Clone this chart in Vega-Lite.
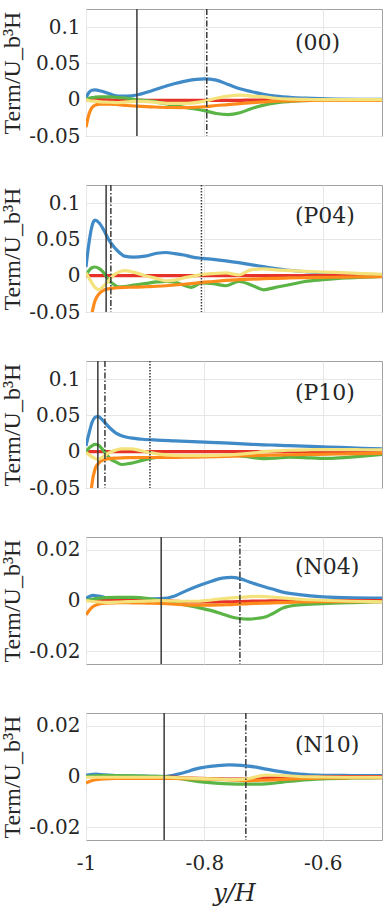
{
  "$schema": "https://vega.github.io/schema/vega-lite/v6.json",
  "background": "white",
  "padding": {"left": 0, "top": 7, "right": 0, "bottom": 0},
  "spacing": 49,
  "bounds": "flush",
  "resolve": {"scale": {"x": "independent", "y": "independent"}},
  "config": {
    "view": {"stroke": "#a0a0a0", "strokeWidth": 1},
    "axis": {
      "grid": true, "gridColor": "#e6e6e6", "gridWidth": 1,
      "ticks": false, "tickSize": 0, "domain": false,
      "labelFont": "DejaVu Serif", "labelFontSize": 20, "labelColor": "#262626",
      "labelFlush": false, "labelOverlap": false, "labelBound": false,
      "titleColor": "#262626", "titleFontWeight": "normal"
    },
    "axisY": {"labelPadding": 6, "titleFont": "Liberation Serif", "titleFontSize": 24, "titlePadding": 4},
    "axisX": {"labelPadding": 13, "titleFont": "DejaVu Serif", "titleFontSize": 24, "titleFontStyle": "italic", "titlePadding": 8}
  },
  "datasets": {
    "p00": [
      {"x": -1.000, "T1": 0.003, "T2": 0, "T3": 0.000, "T4": -0.038, "T5": 0.000},
      {"x": -0.995, "T1": 0.010, "T2": 0, "T3": 0.002, "T4": -0.020, "T5": -0.001},
      {"x": -0.990, "T1": 0.013, "T2": 0, "T3": 0.003, "T4": -0.011, "T5": -0.002},
      {"x": -0.985, "T1": 0.0135, "T2": 0, "T3": 0.0035, "T4": -0.0075, "T5": -0.002},
      {"x": -0.975, "T1": 0.012, "T2": 0, "T3": 0.004, "T4": -0.0062, "T5": -0.003},
      {"x": -0.960, "T1": 0.008, "T2": -0.0003, "T3": 0.004, "T4": -0.006, "T5": -0.0035},
      {"x": -0.945, "T1": 0.005, "T2": -0.0006, "T3": 0.003, "T4": -0.0068, "T5": -0.004},
      {"x": -0.930, "T1": 0.005, "T2": -0.0008, "T3": 0.002, "T4": -0.008, "T5": -0.003},
      {"x": -0.914, "T1": 0.0065, "T2": -0.001, "T3": 0.000, "T4": -0.0088, "T5": -0.002},
      {"x": -0.890, "T1": 0.012, "T2": -0.001, "T3": -0.002, "T4": -0.0098, "T5": -0.003},
      {"x": -0.860, "T1": 0.020, "T2": -0.001, "T3": -0.0065, "T4": -0.0107, "T5": -0.005},
      {"x": -0.830, "T1": 0.026, "T2": -0.001, "T3": -0.011, "T4": -0.0108, "T5": -0.005},
      {"x": -0.800, "T1": 0.0287, "T2": -0.001, "T3": -0.015, "T4": -0.0097, "T5": -0.002},
      {"x": -0.780, "T1": 0.027, "T2": -0.001, "T3": -0.019, "T4": -0.008, "T5": 0.002},
      {"x": -0.760, "T1": 0.021, "T2": -0.001, "T3": -0.0205, "T4": -0.0068, "T5": 0.005},
      {"x": -0.740, "T1": 0.015, "T2": -0.0008, "T3": -0.018, "T4": -0.0055, "T5": 0.0062},
      {"x": -0.720, "T1": 0.011, "T2": -0.0005, "T3": -0.012, "T4": -0.004, "T5": 0.005},
      {"x": -0.700, "T1": 0.0075, "T2": -0.0003, "T3": -0.0075, "T4": -0.003, "T5": 0.004},
      {"x": -0.680, "T1": 0.005, "T2": 0, "T3": -0.0045, "T4": -0.002, "T5": 0.002},
      {"x": -0.650, "T1": 0.003, "T2": 0, "T3": -0.002, "T4": -0.0015, "T5": 0.0008},
      {"x": -0.620, "T1": 0.002, "T2": 0, "T3": -0.001, "T4": -0.001, "T5": 0.0003},
      {"x": -0.580, "T1": 0.001, "T2": 0, "T3": -0.0008, "T4": -0.001, "T5": 0},
      {"x": -0.540, "T1": 0.0006, "T2": 0, "T3": -0.0005, "T4": -0.001, "T5": 0},
      {"x": -0.500, "T1": 0.0004, "T2": 0, "T3": -0.0004, "T4": -0.0008, "T5": 0}
    ],
    "pP04": [
      {"x": -1.000, "T1": 0.012, "T2": 0, "T3": 0.000, "T4": -0.10, "T5": 0.004},
      {"x": -0.995, "T1": 0.045, "T2": 0, "T3": 0.007, "T4": -0.075, "T5": -0.003},
      {"x": -0.990, "T1": 0.068, "T2": 0, "T3": 0.011, "T4": -0.052, "T5": -0.010},
      {"x": -0.985, "T1": 0.0765, "T2": 0, "T3": 0.012, "T4": -0.035, "T5": -0.016},
      {"x": -0.978, "T1": 0.073, "T2": 0, "T3": 0.010, "T4": -0.025, "T5": -0.019},
      {"x": -0.970, "T1": 0.063, "T2": 0, "T3": 0.004, "T4": -0.020, "T5": -0.014},
      {"x": -0.962, "T1": 0.050, "T2": 0, "T3": -0.006, "T4": -0.018, "T5": -0.007},
      {"x": -0.953, "T1": 0.040, "T2": 0, "T3": -0.012, "T4": -0.017, "T5": 0.001},
      {"x": -0.945, "T1": 0.033, "T2": 0, "T3": -0.0155, "T4": -0.0165, "T5": 0.005},
      {"x": -0.935, "T1": 0.027, "T2": 0, "T3": -0.015, "T4": -0.016, "T5": 0.007},
      {"x": -0.920, "T1": 0.0255, "T2": 0, "T3": -0.013, "T4": -0.0158, "T5": 0.005},
      {"x": -0.900, "T1": 0.027, "T2": 0, "T3": -0.011, "T4": -0.0152, "T5": 0.000},
      {"x": -0.880, "T1": 0.031, "T2": 0, "T3": -0.0085, "T4": -0.0145, "T5": -0.004},
      {"x": -0.865, "T1": 0.032, "T2": 0, "T3": -0.008, "T4": -0.0138, "T5": -0.007},
      {"x": -0.850, "T1": 0.0305, "T2": 0, "T3": -0.009, "T4": -0.0128, "T5": -0.006},
      {"x": -0.835, "T1": 0.0285, "T2": 0, "T3": -0.013, "T4": -0.0118, "T5": -0.003},
      {"x": -0.822, "T1": 0.026, "T2": 0, "T3": -0.016, "T4": -0.0108, "T5": -0.001},
      {"x": -0.805, "T1": 0.024, "T2": 0, "T3": -0.010, "T4": -0.0093, "T5": 0.0015},
      {"x": -0.785, "T1": 0.0225, "T2": 0, "T3": -0.011, "T4": -0.008, "T5": 0.003},
      {"x": -0.764, "T1": 0.0205, "T2": 0, "T3": -0.0138, "T4": -0.0065, "T5": 0.004},
      {"x": -0.742, "T1": 0.018, "T2": 0, "T3": -0.008, "T4": -0.0055, "T5": 0.001},
      {"x": -0.720, "T1": 0.015, "T2": 0, "T3": -0.013, "T4": -0.0047, "T5": 0.0085},
      {"x": -0.700, "T1": 0.0125, "T2": 0, "T3": -0.0194, "T4": -0.0041, "T5": 0.0095},
      {"x": -0.680, "T1": 0.010, "T2": 0, "T3": -0.016, "T4": -0.0036, "T5": 0.008},
      {"x": -0.657, "T1": 0.0075, "T2": 0, "T3": -0.0125, "T4": -0.0031, "T5": 0.007},
      {"x": -0.630, "T1": 0.0055, "T2": 0, "T3": -0.008, "T4": -0.0027, "T5": 0.006},
      {"x": -0.600, "T1": 0.004, "T2": 0, "T3": -0.0055, "T4": -0.0023, "T5": 0.005},
      {"x": -0.560, "T1": 0.0025, "T2": 0, "T3": -0.003, "T4": -0.0019, "T5": 0.004},
      {"x": -0.530, "T1": 0.0015, "T2": 0, "T3": -0.002, "T4": -0.0016, "T5": 0.003},
      {"x": -0.500, "T1": 0.001, "T2": 0, "T3": -0.001, "T4": -0.0014, "T5": 0.002}
    ],
    "pP10": [
      {"x": -1.000, "T1": 0.008, "T2": 0, "T3": 0.000, "T4": -0.15, "T5": -0.001},
      {"x": -0.995, "T1": 0.025, "T2": 0, "T3": 0.005, "T4": -0.085, "T5": -0.004},
      {"x": -0.990, "T1": 0.040, "T2": 0, "T3": 0.008, "T4": -0.045, "T5": -0.007},
      {"x": -0.985, "T1": 0.047, "T2": 0, "T3": 0.010, "T4": -0.0245, "T5": -0.009},
      {"x": -0.980, "T1": 0.0486, "T2": 0, "T3": 0.0095, "T4": -0.017, "T5": -0.0105},
      {"x": -0.975, "T1": 0.046, "T2": 0, "T3": 0.006, "T4": -0.013, "T5": -0.009},
      {"x": -0.968, "T1": 0.040, "T2": 0, "T3": -0.001, "T4": -0.0107, "T5": -0.005},
      {"x": -0.960, "T1": 0.033, "T2": 0, "T3": -0.009, "T4": -0.0095, "T5": -0.001},
      {"x": -0.950, "T1": 0.026, "T2": 0, "T3": -0.014, "T4": -0.0088, "T5": 0.002},
      {"x": -0.940, "T1": 0.022, "T2": 0, "T3": -0.0176, "T4": -0.0084, "T5": 0.004},
      {"x": -0.925, "T1": 0.019, "T2": 0, "T3": -0.016, "T4": -0.0082, "T5": 0.004},
      {"x": -0.905, "T1": 0.0172, "T2": 0, "T3": -0.012, "T4": -0.008, "T5": 0.001},
      {"x": -0.880, "T1": 0.016, "T2": 0, "T3": -0.008, "T4": -0.008, "T5": -0.003},
      {"x": -0.850, "T1": 0.015, "T2": 0, "T3": -0.0065, "T4": -0.0078, "T5": -0.005},
      {"x": -0.820, "T1": 0.014, "T2": 0, "T3": -0.006, "T4": -0.0074, "T5": -0.0055},
      {"x": -0.780, "T1": 0.0125, "T2": 0, "T3": -0.0058, "T4": -0.0068, "T5": -0.005},
      {"x": -0.750, "T1": 0.0115, "T2": 0, "T3": -0.005, "T4": -0.006, "T5": -0.004},
      {"x": -0.720, "T1": 0.0102, "T2": 0, "T3": -0.0078, "T4": -0.0054, "T5": -0.002},
      {"x": -0.700, "T1": 0.0095, "T2": 0, "T3": -0.0095, "T4": -0.005, "T5": 0.000},
      {"x": -0.680, "T1": 0.009, "T2": 0, "T3": -0.009, "T4": -0.0046, "T5": 0.001},
      {"x": -0.657, "T1": 0.0083, "T2": 0, "T3": -0.0075, "T4": -0.0042, "T5": 0.002},
      {"x": -0.620, "T1": 0.0073, "T2": 0, "T3": -0.0085, "T4": -0.0037, "T5": 0.0027},
      {"x": -0.590, "T1": 0.0065, "T2": 0, "T3": -0.0093, "T4": -0.0033, "T5": 0.003},
      {"x": -0.560, "T1": 0.0056, "T2": 0, "T3": -0.008, "T4": -0.003, "T5": 0.003},
      {"x": -0.533, "T1": 0.0048, "T2": 0, "T3": -0.006, "T4": -0.0027, "T5": 0.0027},
      {"x": -0.500, "T1": 0.004, "T2": 0, "T3": -0.0037, "T4": -0.0023, "T5": 0.0024}
    ],
    "pN04": [
      {"x": -1.000, "T1": 0.0009, "T2": 0, "T3": 0.0000, "T4": -0.0057, "T5": 0.0000},
      {"x": -0.995, "T1": 0.0015, "T2": 0, "T3": 0.0003, "T4": -0.0040, "T5": -0.0002},
      {"x": -0.988, "T1": 0.0020, "T2": 0, "T3": 0.0006, "T4": -0.0024, "T5": -0.0004},
      {"x": -0.978, "T1": 0.0017, "T2": 0, "T3": 0.0009, "T4": -0.0014, "T5": -0.0006},
      {"x": -0.968, "T1": 0.0012, "T2": 0, "T3": 0.0011, "T4": -0.0010, "T5": -0.0007},
      {"x": -0.945, "T1": 0.0007, "T2": 0, "T3": 0.0012, "T4": -0.0008, "T5": -0.0006},
      {"x": -0.920, "T1": 0.0006, "T2": 0, "T3": 0.0012, "T4": -0.0009, "T5": -0.0004},
      {"x": -0.895, "T1": 0.0006, "T2": 0, "T3": 0.0008, "T4": -0.0010, "T5": -0.0002},
      {"x": -0.873, "T1": 0.0007, "T2": 0, "T3": 0.0000, "T4": -0.0011, "T5": 0.0000},
      {"x": -0.850, "T1": 0.0018, "T2": -0.0003, "T3": -0.0008, "T4": -0.0014, "T5": -0.0002},
      {"x": -0.833, "T1": 0.0036, "T2": -0.0005, "T3": -0.0017, "T4": -0.0017, "T5": -0.0003},
      {"x": -0.810, "T1": 0.0058, "T2": -0.0006, "T3": -0.0028, "T4": -0.0018, "T5": -0.0003},
      {"x": -0.788, "T1": 0.0076, "T2": -0.0006, "T3": -0.0040, "T4": -0.0018, "T5": 0.0002},
      {"x": -0.770, "T1": 0.0088, "T2": -0.0005, "T3": -0.0053, "T4": -0.0017, "T5": 0.0007},
      {"x": -0.754, "T1": 0.0091, "T2": -0.0005, "T3": -0.0065, "T4": -0.0016, "T5": 0.0010},
      {"x": -0.740, "T1": 0.0086, "T2": -0.0004, "T3": -0.0071, "T4": -0.0014, "T5": 0.0012},
      {"x": -0.725, "T1": 0.0074, "T2": -0.0003, "T3": -0.0073, "T4": -0.0012, "T5": 0.0015},
      {"x": -0.710, "T1": 0.0062, "T2": -0.0002, "T3": -0.0070, "T4": -0.0011, "T5": 0.0016},
      {"x": -0.696, "T1": 0.0052, "T2": -0.0002, "T3": -0.0064, "T4": -0.0010, "T5": 0.0015},
      {"x": -0.685, "T1": 0.0045, "T2": -0.0001, "T3": -0.0052, "T4": -0.0009, "T5": 0.0013},
      {"x": -0.668, "T1": 0.0033, "T2": -0.0001, "T3": -0.0030, "T4": -0.0008, "T5": 0.0010},
      {"x": -0.640, "T1": 0.0023, "T2": 0, "T3": -0.0017, "T4": -0.0006, "T5": 0.0005},
      {"x": -0.600, "T1": 0.0014, "T2": 0, "T3": -0.0012, "T4": -0.0005, "T5": 0.0001},
      {"x": -0.550, "T1": 0.0010, "T2": 0, "T3": -0.0008, "T4": -0.0005, "T5": -0.0003},
      {"x": -0.500, "T1": 0.0009, "T2": 0, "T3": -0.0005, "T4": -0.0005, "T5": -0.0005}
    ],
    "pN10": [
      {"x": -1.000, "T1": 0.0004, "T2": 0, "T3": 0.0000, "T4": -0.0026, "T5": -0.0003},
      {"x": -0.992, "T1": 0.0008, "T2": 0, "T3": 0.0002, "T4": -0.0018, "T5": -0.0003},
      {"x": -0.984, "T1": 0.0009, "T2": 0, "T3": 0.0003, "T4": -0.0013, "T5": -0.0003},
      {"x": -0.970, "T1": 0.0007, "T2": 0, "T3": 0.0004, "T4": -0.0009, "T5": -0.0003},
      {"x": -0.950, "T1": 0.0004, "T2": 0, "T3": 0.0004, "T4": -0.0007, "T5": -0.0003},
      {"x": -0.920, "T1": 0.0002, "T2": 0, "T3": 0.0003, "T4": -0.0007, "T5": -0.0003},
      {"x": -0.890, "T1": 0.0001, "T2": 0, "T3": 0.0001, "T4": -0.0007, "T5": -0.0003},
      {"x": -0.868, "T1": 0.0000, "T2": -0.0001, "T3": 0.0000, "T4": -0.0007, "T5": -0.0003},
      {"x": -0.840, "T1": 0.0012, "T2": -0.0004, "T3": -0.0009, "T4": -0.0008, "T5": -0.0005},
      {"x": -0.809, "T1": 0.0033, "T2": -0.0007, "T3": -0.0020, "T4": -0.0009, "T5": -0.0008},
      {"x": -0.781, "T1": 0.0042, "T2": -0.0009, "T3": -0.0026, "T4": -0.0011, "T5": -0.0010},
      {"x": -0.758, "T1": 0.0046, "T2": -0.0010, "T3": -0.0029, "T4": -0.0013, "T5": -0.0012},
      {"x": -0.730, "T1": 0.0042, "T2": -0.0010, "T3": -0.0030, "T4": -0.0016, "T5": -0.0010},
      {"x": -0.710, "T1": 0.0036, "T2": -0.0008, "T3": -0.0030, "T4": -0.0015, "T5": 0.0000},
      {"x": -0.696, "T1": 0.0029, "T2": -0.0006, "T3": -0.0029, "T4": -0.0014, "T5": 0.0006},
      {"x": -0.668, "T1": 0.0018, "T2": -0.0004, "T3": -0.0022, "T4": -0.0011, "T5": 0.0004},
      {"x": -0.640, "T1": 0.0009, "T2": -0.0002, "T3": -0.0015, "T4": -0.0008, "T5": 0.0000},
      {"x": -0.600, "T1": 0.0005, "T2": -0.0001, "T3": -0.0009, "T4": -0.0006, "T5": -0.0002},
      {"x": -0.550, "T1": 0.0004, "T2": 0, "T3": -0.0006, "T4": -0.0005, "T5": -0.0003},
      {"x": -0.500, "T1": 0.0004, "T2": 0, "T3": -0.0005, "T4": -0.0005, "T5": -0.0003}
    ]
  },
  "vconcat": [
    {
      "width": 296, "height": 127,
      "layer": [
        {"data": {"name": "p00"}, "transform": [{"fold": ["T1", "T2", "T3", "T4", "T5"], "as": ["term", "value"]}],
         "mark": {"type": "line", "strokeWidth": 3.2, "clip": true, "interpolate": "monotone"},
         "encoding": {
           "x": {"field": "x", "type": "quantitative", "scale": {"domain": [-1, -0.5], "nice": false, "zero": false}, "axis": {"values": [-1, -0.8, -0.6], "labels": false, "title": null}},
           "y": {"field": "value", "type": "quantitative", "scale": {"domain": [-0.05, 0.125], "nice": false, "zero": false}, "axis": {"values": [-0.05, 0, 0.05, 0.1], "labelExpr": "toString(datum.value)", "title": "Term/U_b³H"}},
           "color": {"field": "term", "type": "nominal", "scale": {"domain": ["T1", "T2", "T3", "T4", "T5"], "range": ["#3f8ac7", "#e63228", "#5bb446", "#fd8a1a", "#f4e27c"]}, "legend": null}}},
        {"data": {"values": [{"x": -0.914, "kind": "solid"}, {"x": -0.796, "kind": "dashdot"}]},
         "mark": {"type": "rule", "color": "#3a3a3a", "strokeWidth": 1.5},
         "encoding": {"x": {"field": "x", "type": "quantitative"},
           "strokeDash": {"field": "kind", "type": "nominal", "scale": {"domain": ["solid", "dashdot", "dotted"], "range": [[1, 0], [6, 2, 1.5, 2], [1.5, 1.5]]}, "legend": null}}},
        {"data": {"values": [{"label": "(00)"}]},
         "mark": {"type": "text", "align": "left", "baseline": "middle", "font": "DejaVu Serif", "fontSize": 22, "color": "#262626"},
         "encoding": {"x": {"datum": -0.647}, "y": {"datum": 0.078}, "text": {"field": "label"}}}
      ]
    },
    {
      "width": 296, "height": 127,
      "layer": [
        {"data": {"name": "pP04"}, "transform": [{"fold": ["T1", "T2", "T3", "T4", "T5"], "as": ["term", "value"]}],
         "mark": {"type": "line", "strokeWidth": 3.2, "clip": true, "interpolate": "monotone"},
         "encoding": {
           "x": {"field": "x", "type": "quantitative", "scale": {"domain": [-1, -0.5], "nice": false, "zero": false}, "axis": {"values": [-1, -0.8, -0.6], "labels": false, "title": null}},
           "y": {"field": "value", "type": "quantitative", "scale": {"domain": [-0.05, 0.125], "nice": false, "zero": false}, "axis": {"values": [-0.05, 0, 0.05, 0.1], "labelExpr": "toString(datum.value)", "title": "Term/U_b³H"}},
           "color": {"field": "term", "type": "nominal", "scale": {"domain": ["T1", "T2", "T3", "T4", "T5"], "range": ["#3f8ac7", "#e63228", "#5bb446", "#fd8a1a", "#f4e27c"]}, "legend": null}}},
        {"data": {"values": [{"x": -0.966, "kind": "solid"}, {"x": -0.958, "kind": "dashdot"}, {"x": -0.805, "kind": "dotted"}]},
         "mark": {"type": "rule", "color": "#3a3a3a", "strokeWidth": 1.5},
         "encoding": {"x": {"field": "x", "type": "quantitative"},
           "strokeDash": {"field": "kind", "type": "nominal", "scale": {"domain": ["solid", "dashdot", "dotted"], "range": [[1, 0], [6, 2, 1.5, 2], [1.5, 1.5]]}, "legend": null}}},
        {"data": {"values": [{"label": "(P04)"}]},
         "mark": {"type": "text", "align": "left", "baseline": "middle", "font": "DejaVu Serif", "fontSize": 22, "color": "#262626"},
         "encoding": {"x": {"datum": -0.647}, "y": {"datum": 0.082}, "text": {"field": "label"}}}
      ]
    },
    {
      "width": 296, "height": 127,
      "layer": [
        {"data": {"name": "pP10"}, "transform": [{"fold": ["T1", "T2", "T3", "T4", "T5"], "as": ["term", "value"]}],
         "mark": {"type": "line", "strokeWidth": 3.2, "clip": true, "interpolate": "monotone"},
         "encoding": {
           "x": {"field": "x", "type": "quantitative", "scale": {"domain": [-1, -0.5], "nice": false, "zero": false}, "axis": {"values": [-1, -0.8, -0.6], "labels": false, "title": null}},
           "y": {"field": "value", "type": "quantitative", "scale": {"domain": [-0.05, 0.125], "nice": false, "zero": false}, "axis": {"values": [-0.05, 0, 0.05, 0.1], "labelExpr": "toString(datum.value)", "title": "Term/U_b³H"}},
           "color": {"field": "term", "type": "nominal", "scale": {"domain": ["T1", "T2", "T3", "T4", "T5"], "range": ["#3f8ac7", "#e63228", "#5bb446", "#fd8a1a", "#f4e27c"]}, "legend": null}}},
        {"data": {"values": [{"x": -0.980, "kind": "solid"}, {"x": -0.968, "kind": "dashdot"}, {"x": -0.892, "kind": "dotted"}]},
         "mark": {"type": "rule", "color": "#3a3a3a", "strokeWidth": 1.5},
         "encoding": {"x": {"field": "x", "type": "quantitative"},
           "strokeDash": {"field": "kind", "type": "nominal", "scale": {"domain": ["solid", "dashdot", "dotted"], "range": [[1, 0], [6, 2, 1.5, 2], [1.5, 1.5]]}, "legend": null}}},
        {"data": {"values": [{"label": "(P10)"}]},
         "mark": {"type": "text", "align": "left", "baseline": "middle", "font": "DejaVu Serif", "fontSize": 22, "color": "#262626"},
         "encoding": {"x": {"datum": -0.647}, "y": {"datum": 0.081}, "text": {"field": "label"}}}
      ]
    },
    {
      "width": 296, "height": 127,
      "layer": [
        {"data": {"name": "pN04"}, "transform": [{"fold": ["T1", "T2", "T3", "T4", "T5"], "as": ["term", "value"]}],
         "mark": {"type": "line", "strokeWidth": 3.2, "clip": true, "interpolate": "monotone"},
         "encoding": {
           "x": {"field": "x", "type": "quantitative", "scale": {"domain": [-1, -0.5], "nice": false, "zero": false}, "axis": {"values": [-1, -0.8, -0.6], "labels": false, "title": null}},
           "y": {"field": "value", "type": "quantitative", "scale": {"domain": [-0.025, 0.025], "nice": false, "zero": false}, "axis": {"values": [-0.02, 0, 0.02], "labelExpr": "toString(datum.value)", "title": "Term/U_b³H"}},
           "color": {"field": "term", "type": "nominal", "scale": {"domain": ["T1", "T2", "T3", "T4", "T5"], "range": ["#3f8ac7", "#e63228", "#5bb446", "#fd8a1a", "#f4e27c"]}, "legend": null}}},
        {"data": {"values": [{"x": -0.873, "kind": "solid"}, {"x": -0.740, "kind": "dashdot"}]},
         "mark": {"type": "rule", "color": "#3a3a3a", "strokeWidth": 1.5},
         "encoding": {"x": {"field": "x", "type": "quantitative"},
           "strokeDash": {"field": "kind", "type": "nominal", "scale": {"domain": ["solid", "dashdot", "dotted"], "range": [[1, 0], [6, 2, 1.5, 2], [1.5, 1.5]]}, "legend": null}}},
        {"data": {"values": [{"label": "(N04)"}]},
         "mark": {"type": "text", "align": "left", "baseline": "middle", "font": "DejaVu Serif", "fontSize": 22, "color": "#262626"},
         "encoding": {"x": {"datum": -0.647}, "y": {"datum": 0.013}, "text": {"field": "label"}}}
      ]
    },
    {
      "width": 296, "height": 127,
      "layer": [
        {"data": {"name": "pN10"}, "transform": [{"fold": ["T1", "T2", "T3", "T4", "T5"], "as": ["term", "value"]}],
         "mark": {"type": "line", "strokeWidth": 3.2, "clip": true, "interpolate": "monotone"},
         "encoding": {
           "x": {"field": "x", "type": "quantitative", "scale": {"domain": [-1, -0.5], "nice": false, "zero": false}, "axis": {"values": [-1, -0.8, -0.6], "labelExpr": "toString(datum.value)", "title": "y/H"}},
           "y": {"field": "value", "type": "quantitative", "scale": {"domain": [-0.025, 0.025], "nice": false, "zero": false}, "axis": {"values": [-0.02, 0, 0.02], "labelExpr": "toString(datum.value)", "title": "Term/U_b³H"}},
           "color": {"field": "term", "type": "nominal", "scale": {"domain": ["T1", "T2", "T3", "T4", "T5"], "range": ["#3f8ac7", "#e63228", "#5bb446", "#fd8a1a", "#f4e27c"]}, "legend": null}}},
        {"data": {"values": [{"x": -0.868, "kind": "solid"}, {"x": -0.730, "kind": "dashdot"}]},
         "mark": {"type": "rule", "color": "#3a3a3a", "strokeWidth": 1.5},
         "encoding": {"x": {"field": "x", "type": "quantitative"},
           "strokeDash": {"field": "kind", "type": "nominal", "scale": {"domain": ["solid", "dashdot", "dotted"], "range": [[1, 0], [6, 2, 1.5, 2], [1.5, 1.5]]}, "legend": null}}},
        {"data": {"values": [{"label": "(N10)"}]},
         "mark": {"type": "text", "align": "left", "baseline": "middle", "font": "DejaVu Serif", "fontSize": 22, "color": "#262626"},
         "encoding": {"x": {"datum": -0.647}, "y": {"datum": 0.0125}, "text": {"field": "label"}}}
      ]
    }
  ]
}
